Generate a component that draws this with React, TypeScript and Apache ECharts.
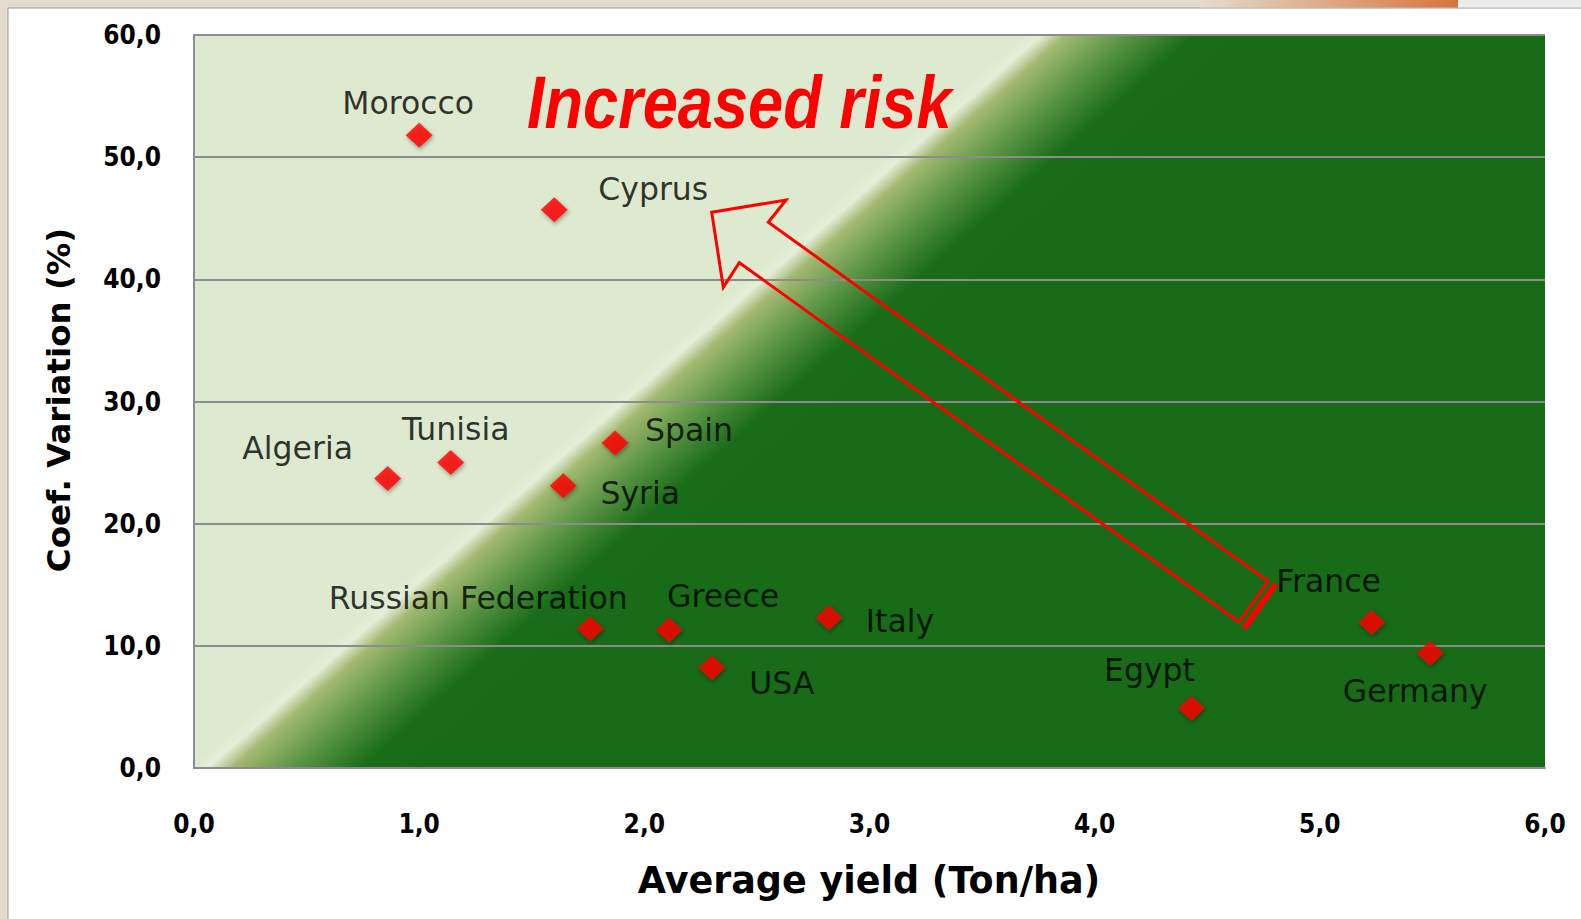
import React, { useEffect, useRef } from "react";
import * as echarts from "echarts";

const countries = [
  "Morocco", "Cyprus", "Algeria", "Tunisia", "Spain", "Syria",
  "Russian Federation", "Greece", "USA", "Italy", "Egypt", "France", "Germany",
];
const avgYield = [1.0, 1.6, 0.86, 1.14, 1.87, 1.64, 1.76, 2.11, 2.3, 2.82, 4.43, 5.23, 5.49];
const coefVariation = [51.8, 45.7, 23.7, 25.0, 26.6, 23.1, 11.4, 11.3, 8.2, 12.3, 4.9, 11.9, 9.4];
const xTicks = { min: 0, max: 6, step: 1 };
const yTicks = { min: 0, max: 60, step: 10 };

// label offsets (layout only), px relative to the marker centre
const labelOffsets: [number, number][] = [
  [-11, -32], [99, -21], [-90, -30], [5, -34], [74, -13], [77, 7],
  [-112, -31], [54, -34], [70, 15], [71, 3], [-42, -38], [-43, -42], [-15, 38],
];

const fmt = (v: number) => v.toFixed(1).replace(".", ",");

export default function App() {
  const ref = useRef<HTMLDivElement>(null);
  useEffect(() => {
    if (!ref.current) return;
    const chart = echarts.init(ref.current, null, { renderer: "svg" });
    const GL = 194, GT = 35, GR = 1545, GB = 768;
    const t0 = 600, t1 = 900, nx = 0.66, ny = 0.751;
    const gradient = {
      type: "linear",
      x: nx * t0, y: ny * t0, x2: nx * t1, y2: ny * t1,
      global: true,
      colorStops: [
        { offset: 0, color: "#deeacf" },
        { offset: 0.34, color: "#deeacf" },
        { offset: 0.38, color: "#e4eed8" },
        { offset: 0.435, color: "#a2b970" },
        { offset: 0.57, color: "#5a9444" },
        { offset: 0.72, color: "#196c18" },
        { offset: 1, color: "#186b17" },
      ],
    };
    const T = [711.7, 212.3], RB = [786, 200], RN = [768.3, 222.3], UE = [1268, 581],
      LE = [1239, 622], LN = [739.3, 262.7], LB = [723.3, 287.3];
    const ux = 0.813, uy = 0.583, off = 8;
    const tickFont = {
      color: "#000", fontFamily: "DejaVu Sans Condensed, DejaVu Sans",
      fontWeight: "bold", fontSize: 26,
    };
    chart.setOption({
      animation: false,
      backgroundColor: "#e4dccd",
      grid: {
        left: GL, top: GT, right: 1581 - GR, bottom: 919 - GB,
        show: true, backgroundColor: gradient, borderWidth: 0, containLabel: false,
      },
      xAxis: {
        type: "value", min: xTicks.min, max: xTicks.max, interval: xTicks.step,
        axisLine: { show: true, lineStyle: { color: "#8c8c8c", width: 2 } },
        axisTick: { show: false },
        splitLine: { show: false },
        axisLabel: { margin: 43, formatter: (v: number) => fmt(v), ...tickFont },
      },
      yAxis: {
        type: "value", min: yTicks.min, max: yTicks.max, interval: yTicks.step,
        axisLine: { show: true, lineStyle: { color: "#8c8c8c", width: 2 } },
        axisTick: { show: false },
        splitLine: { show: true, lineStyle: { color: "#8c8c8c", width: 2 } },
        axisLabel: { margin: 33, formatter: (v: number) => fmt(v), ...tickFont },
      },
      graphic: [
        { type: "rect", z: -10, silent: true, shape: { x: 8, y: 8, width: 1600, height: 930 },
          style: { fill: "#ffffff", stroke: "#9a9a9a", lineWidth: 1 } },
        { type: "rect", z: -10, silent: true, shape: { x: 1200, y: 0, width: 258, height: 7.5 },
          style: { fill: { type: "linear", x: 0, y: 0, x2: 1, y2: 0, colorStops: [
            { offset: 0, color: "#e4dccd" }, { offset: 1, color: "#d8743c" } ] } } },
        { type: "rect", z: -10, silent: true, shape: { x: 1458, y: 0, width: 130, height: 7.5 },
          style: { fill: "#ececec" } },
        {
          type: "text", z: 10, x: 527, y: 103, scaleX: 0.853,
          style: { text: "Increased risk", fill: "#ff0000", fontFamily: "Liberation Sans",
            fontWeight: "bold", fontStyle: "italic", fontSize: 74,
            textAlign: "left", textVerticalAlign: "middle" },
        },
        {
          type: "polygon", z: 10,
          shape: { points: [T, RB, RN, UE, LE, LN, LB] },
          style: { fill: "none", stroke: "#ff0000", lineWidth: 3, lineJoin: "miter" },
        },
        {
          type: "line", z: 10,
          shape: { x1: UE[0] + ux * off + 0.58 * 2, y1: UE[1] + uy * off - 0.81 * 2,
                   x2: LE[0] + ux * off - 0.58 * 2, y2: LE[1] + uy * off + 0.81 * 2 },
          style: { stroke: "#ff0000", lineWidth: 6 },
        },
        {
          type: "text", x: 869, y: 880,
          style: { text: "Average yield (Ton/ha)", fill: "#000", fontFamily: "DejaVu Sans",
            fontWeight: "bold", fontSize: 36.5, textAlign: "center", textVerticalAlign: "middle" },
        },
        {
          type: "text", x: 59, y: 400, rotation: Math.PI / 2,
          style: { text: "Coef. Variation (%)", fill: "#000", fontFamily: "DejaVu Sans",
            fontWeight: "bold", fontSize: 32.5, textAlign: "center", textVerticalAlign: "middle" },
        },
      ],
      series: [
        {
          type: "scatter",
          symbol: "diamond",
          symbolSize: [27, 25],
          itemStyle: { color: "#ff0000", shadowBlur: 4, shadowColor: "rgba(0,0,0,0.45)", shadowOffsetY: 2, shadowOffsetX: 1 },
          label: {
            show: true, position: "inside", formatter: "{b}", color: "#000",
            fontFamily: "DejaVu Sans", fontSize: 31.5,
          },
          data: countries.map((name, i) => ({
            name,
            value: [avgYield[i], coefVariation[i]],
            label: { offset: labelOffsets[i] },
          })),
        },
      ],
    });
    return () => chart.dispose();
  }, []);
  return (
    <div
      ref={ref}
      style={{ position: "fixed", left: 0, top: 0, width: 1581, height: 919 }}
    />
  );
}
